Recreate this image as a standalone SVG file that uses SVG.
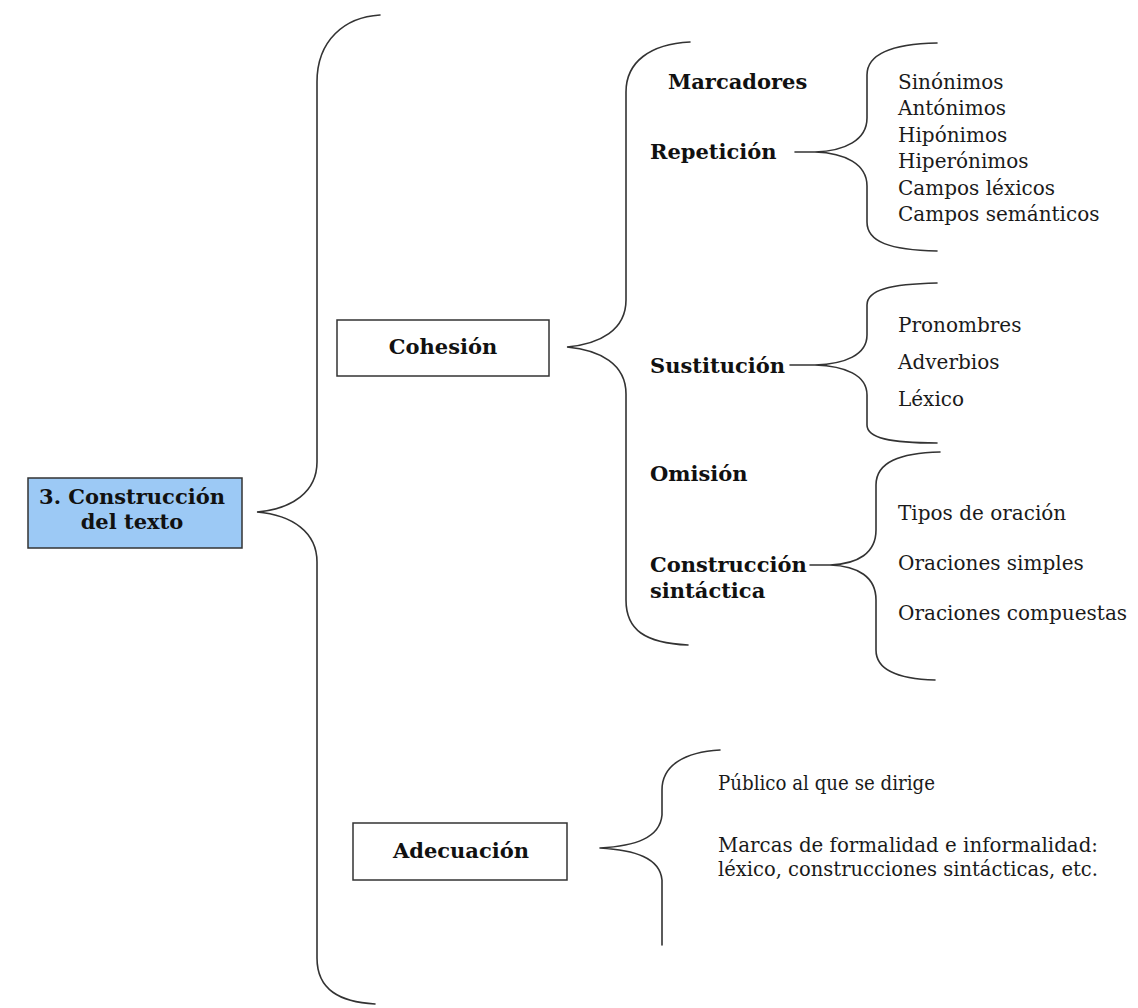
<svg xmlns="http://www.w3.org/2000/svg" width="1138" height="1008" viewBox="0 0 1138 1008">
<style>
.b{font-family:"DejaVu Serif","Liberation Serif",serif;font-weight:bold;font-size:21px;fill:#111}
.r{font-family:"DejaVu Serif","Liberation Serif",serif;font-size:20px;fill:#1a1a1a}
.box{fill:#fff;stroke:#333;stroke-width:1.5}
.br{fill:none;stroke:#333;stroke-width:1.6;stroke-linecap:round}
</style>
<rect width="1138" height="1008" fill="#fff"/>
<g id="connectors">
<path class="br" d="M380,15 C345,17 317,40 317,82 L317,462 C317,492 292,509 257,512 C292,515 317,532 317,562 L317,958 C317,990 340,1002 375,1004"/>
<path class="br" d="M690,42 C650,44 626,62 626,92 L626,300 C626,330 600,344 567,347 C600,350 626,364 626,394 L626,600 C626,630 645,643 688,645"/>
<path class="br" d="M795,152 L815,152 C845,151 867,140 867,118 L867,75 C867,55 890,44 937,43 M815,152 C845,153 867,164 867,186 L867,222 C867,242 890,250 937,251"/>
<path class="br" d="M790,365 L815,365 C845,364 867,355 867,335 L867,305 C867,290 890,284 937,283 M815,365 C845,366 867,375 867,395 L867,425 C867,438 890,443 937,443"/>
<path class="br" d="M810,565 L830,565 C858,564 876,553 876,530 L876,485 C876,462 900,453 940,452 M830,565 C858,566 876,577 876,600 L876,650 C876,670 898,679 935,680"/>
<path class="br" d="M600,848 C635,846 660,838 662,815 L662,790 C662,765 685,752 720,750 M600,848 C635,850 660,858 662,880 L662,945"/>
</g>
<g id="n-root">
<rect x="28" y="478" width="214" height="70" fill="#9cc9f5" stroke="#333" stroke-width="1.5"/>
<text class="b" x="132" y="504" text-anchor="middle" font-size="19">3. Construcción</text>
<text class="b" x="132" y="529" text-anchor="middle" font-size="19">del texto</text>
</g>
<g id="n-cohesion">
<rect class="box" x="337" y="320" width="212" height="56"/>
<text class="b" x="443" y="354" text-anchor="middle">Cohesión</text>
</g>
<g id="n-adecuacion">
<rect class="box" x="353" y="823" width="214" height="57"/>
<text class="b" x="461" y="858" text-anchor="middle">Adecuación</text>
</g>
<g id="n-marcadores"><text class="b" x="668" y="89">Marcadores</text></g>
<g id="n-repeticion"><text class="b" x="650" y="159">Repetición</text></g>
<g id="n-sustitucion"><text class="b" x="650" y="373">Sustitución</text></g>
<g id="n-omision"><text class="b" x="650" y="481">Omisión</text></g>
<g id="n-construccion"><text class="b" x="650" y="572">Construcción</text><text class="b" x="650" y="598">sintáctica</text></g>
<g id="n-repeticion-items">
<text class="r" x="898" y="89">Sinónimos</text>
<text class="r" x="898" y="115">Antónimos</text>
<text class="r" x="898" y="142">Hipónimos</text>
<text class="r" x="898" y="168">Hiperónimos</text>
<text class="r" x="898" y="195">Campos léxicos</text>
<text class="r" x="898" y="221">Campos semánticos</text>
</g>
<g id="n-sustitucion-items">
<text class="r" x="898" y="332">Pronombres</text>
<text class="r" x="898" y="369">Adverbios</text>
<text class="r" x="898" y="406">Léxico</text>
</g>
<g id="n-construccion-items">
<text class="r" x="898" y="520">Tipos de oración</text>
<text class="r" x="898" y="570">Oraciones simples</text>
<text class="r" x="898" y="620">Oraciones compuestas</text>
</g>
<g id="n-adecuacion-items">
<text class="r" x="718" y="790" textLength="217" lengthAdjust="spacingAndGlyphs">Público al que se dirige</text>
<text class="r" x="718" y="852" textLength="380" lengthAdjust="spacingAndGlyphs">Marcas de formalidad e informalidad:</text>
<text class="r" x="718" y="876" textLength="380" lengthAdjust="spacingAndGlyphs">léxico, construcciones sintácticas, etc.</text>
</g>
</svg>
